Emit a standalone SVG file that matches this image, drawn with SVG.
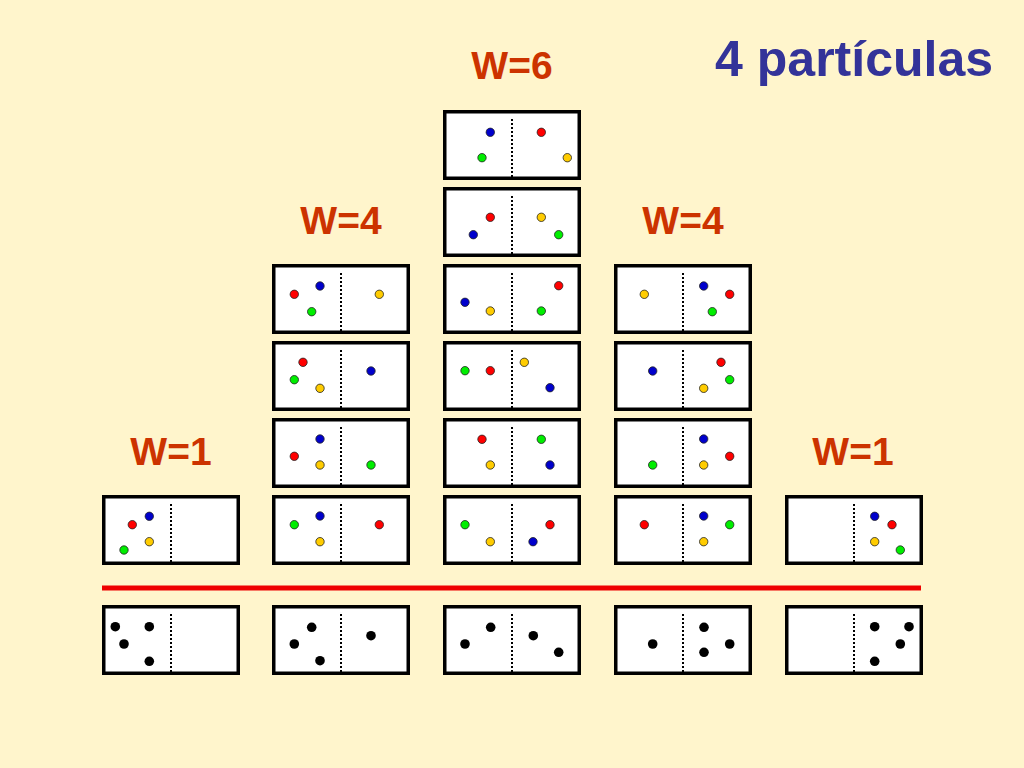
<svg xmlns="http://www.w3.org/2000/svg" width="1024" height="768" viewBox="0 0 1024 768">
<defs>
<style>
.bg{fill:#FFF5CC}
.box{fill:#FFFFFF;stroke:#000000;stroke-width:3.5}
.div{stroke:#000000;stroke-width:2;stroke-dasharray:2 2}
.r{fill:#FF0000;stroke:#222222;stroke-width:0.8}
.b{fill:#0000CC;stroke:#222222;stroke-width:0.8}
.g{fill:#00EE00;stroke:#222222;stroke-width:0.8}
.y{fill:#FFCC00;stroke:#222222;stroke-width:0.8}
.k{fill:#000000}
.w{font-family:"Liberation Sans",Arial,sans-serif;font-weight:bold;font-size:39px;fill:#CC3300;text-anchor:middle}
.t{font-family:"Liberation Sans",Arial,sans-serif;font-weight:bold;font-size:50px;fill:#333399;text-anchor:end}
</style>
<g id="frame">
<rect class="box" x="1.75" y="1.75" width="134.5" height="66.5"/>
<line class="div" x1="69" y1="9" x2="69" y2="68"/>
</g>
</defs>
<rect class="bg" x="0" y="0" width="1024" height="768"/>
<text class="t" x="993" y="76">4 partículas</text>
<text class="w" x="512" y="79">W=6</text>
<text class="w" x="341" y="234">W=4</text>
<text class="w" x="683" y="234">W=4</text>
<text class="w" x="171" y="465">W=1</text>
<text class="w" x="853" y="465">W=1</text>

<g id="connectors">
<line x1="102" y1="588" x2="921" y2="588" stroke="#EE0000" stroke-width="5"/>
</g>

<!-- column 1 -->
<g id="c1r6" transform="translate(102,495)"><use href="#frame"/>
<circle class="b" cx="47.3" cy="21.3" r="4.2"/><circle class="r" cx="30.3" cy="29.7" r="4.2"/><circle class="y" cx="47.3" cy="46.7" r="4.2"/><circle class="g" cx="22" cy="55" r="4.2"/></g>
<g id="c1b" transform="translate(102,605)"><use href="#frame"/>
<circle class="k" cx="13.3" cy="21.7" r="4.8"/><circle class="k" cx="47.3" cy="21.7" r="4.8"/><circle class="k" cx="22" cy="39" r="4.8"/><circle class="k" cx="47.3" cy="56.3" r="4.8"/></g>

<!-- column 2 -->
<g id="c2r3" transform="translate(272,264)"><use href="#frame"/>
<circle class="b" cx="48" cy="22" r="4.2"/><circle class="r" cx="22.3" cy="30.3" r="4.2"/><circle class="g" cx="39.7" cy="47.7" r="4.2"/><circle class="y" cx="107.3" cy="30.3" r="4.2"/></g>
<g id="c2r4" transform="translate(272,341)"><use href="#frame"/>
<circle class="r" cx="31" cy="21.3" r="4.2"/><circle class="g" cx="22.3" cy="38.7" r="4.2"/><circle class="y" cx="48" cy="47.3" r="4.2"/><circle class="b" cx="99" cy="30" r="4.2"/></g>
<g id="c2r5" transform="translate(272,418)"><use href="#frame"/>
<circle class="b" cx="48" cy="21" r="4.2"/><circle class="r" cx="22.3" cy="38.3" r="4.2"/><circle class="y" cx="48" cy="47" r="4.2"/><circle class="g" cx="99" cy="47" r="4.2"/></g>
<g id="c2r6" transform="translate(272,495)"><use href="#frame"/>
<circle class="b" cx="48" cy="21" r="4.2"/><circle class="g" cx="22.3" cy="29.7" r="4.2"/><circle class="y" cx="48" cy="46.7" r="4.2"/><circle class="r" cx="107.3" cy="29.7" r="4.2"/></g>
<g id="c2b" transform="translate(272,605)"><use href="#frame"/>
<circle class="k" cx="39.7" cy="22.3" r="4.8"/><circle class="k" cx="22.3" cy="39" r="4.8"/><circle class="k" cx="48" cy="55.7" r="4.8"/><circle class="k" cx="99" cy="30.7" r="4.8"/></g>

<!-- column 3 -->
<g id="c3r1" transform="translate(443,110)"><use href="#frame"/>
<circle class="b" cx="47.3" cy="22.3" r="4.2"/><circle class="r" cx="98.3" cy="22.3" r="4.2"/><circle class="g" cx="39" cy="47.7" r="4.2"/><circle class="y" cx="124.3" cy="47.7" r="4.2"/></g>
<g id="c3r2" transform="translate(443,187)"><use href="#frame"/>
<circle class="r" cx="47.3" cy="30.3" r="4.2"/><circle class="y" cx="98.3" cy="30.3" r="4.2"/><circle class="b" cx="30.3" cy="47.7" r="4.2"/><circle class="g" cx="115.7" cy="47.7" r="4.2"/></g>
<g id="c3r3" transform="translate(443,264)"><use href="#frame"/>
<circle class="r" cx="115.7" cy="21.7" r="4.2"/><circle class="b" cx="22" cy="38.3" r="4.2"/><circle class="y" cx="47.3" cy="47" r="4.2"/><circle class="g" cx="98.3" cy="47" r="4.2"/></g>
<g id="c3r4" transform="translate(443,341)"><use href="#frame"/>
<circle class="g" cx="22" cy="29.7" r="4.2"/><circle class="r" cx="47.3" cy="29.7" r="4.2"/><circle class="y" cx="81.3" cy="21.3" r="4.2"/><circle class="b" cx="107" cy="46.7" r="4.2"/></g>
<g id="c3r5" transform="translate(443,418)"><use href="#frame"/>
<circle class="r" cx="39" cy="21.3" r="4.2"/><circle class="g" cx="98.3" cy="21.3" r="4.2"/><circle class="y" cx="47.3" cy="47" r="4.2"/><circle class="b" cx="107" cy="47" r="4.2"/></g>
<g id="c3r6" transform="translate(443,495)"><use href="#frame"/>
<circle class="g" cx="22" cy="29.7" r="4.2"/><circle class="r" cx="107" cy="29.7" r="4.2"/><circle class="y" cx="47.3" cy="46.7" r="4.2"/><circle class="b" cx="90" cy="46.7" r="4.2"/></g>
<g id="c3b" transform="translate(443,605)"><use href="#frame"/>
<circle class="k" cx="47.7" cy="22.3" r="4.8"/><circle class="k" cx="22" cy="39" r="4.8"/><circle class="k" cx="90.3" cy="30.7" r="4.8"/><circle class="k" cx="115.7" cy="47.3" r="4.8"/></g>

<!-- column 4 -->
<g id="c4r3" transform="translate(614,264)"><use href="#frame"/>
<circle class="y" cx="30.3" cy="30.3" r="4.2"/><circle class="b" cx="89.7" cy="22" r="4.2"/><circle class="r" cx="115.7" cy="30.3" r="4.2"/><circle class="g" cx="98.3" cy="47.7" r="4.2"/></g>
<g id="c4r4" transform="translate(614,341)"><use href="#frame"/>
<circle class="b" cx="38.7" cy="30" r="4.2"/><circle class="r" cx="107" cy="21.3" r="4.2"/><circle class="g" cx="115.7" cy="38.7" r="4.2"/><circle class="y" cx="89.7" cy="47.3" r="4.2"/></g>
<g id="c4r5" transform="translate(614,418)"><use href="#frame"/>
<circle class="b" cx="89.7" cy="21" r="4.2"/><circle class="r" cx="115.7" cy="38.3" r="4.2"/><circle class="g" cx="38.7" cy="47" r="4.2"/><circle class="y" cx="89.7" cy="47" r="4.2"/></g>
<g id="c4r6" transform="translate(614,495)"><use href="#frame"/>
<circle class="r" cx="30.3" cy="29.7" r="4.2"/><circle class="b" cx="89.7" cy="21" r="4.2"/><circle class="g" cx="115.7" cy="29.7" r="4.2"/><circle class="y" cx="89.7" cy="46.7" r="4.2"/></g>
<g id="c4b" transform="translate(614,605)"><use href="#frame"/>
<circle class="k" cx="38.7" cy="39" r="4.8"/><circle class="k" cx="90" cy="22.3" r="4.8"/><circle class="k" cx="90" cy="47.3" r="4.8"/><circle class="k" cx="115.7" cy="39" r="4.8"/></g>

<!-- column 5 -->
<g id="c5r6" transform="translate(785,495)"><use href="#frame"/>
<circle class="b" cx="89.7" cy="21.3" r="4.2"/><circle class="r" cx="107" cy="29.7" r="4.2"/><circle class="y" cx="89.7" cy="46.7" r="4.2"/><circle class="g" cx="115.3" cy="55" r="4.2"/></g>
<g id="c5b" transform="translate(785,605)"><use href="#frame"/>
<circle class="k" cx="89.7" cy="21.7" r="4.8"/><circle class="k" cx="124" cy="21.7" r="4.8"/><circle class="k" cx="115.3" cy="39" r="4.8"/><circle class="k" cx="89.7" cy="56.3" r="4.8"/></g>
</svg>
